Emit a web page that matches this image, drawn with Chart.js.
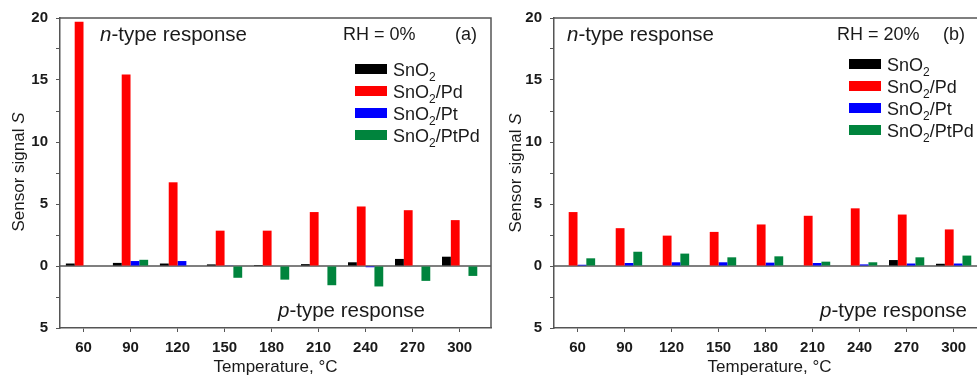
<!DOCTYPE html>
<html>
<head>
<meta charset="utf-8">
<script src="https://cdn.jsdelivr.net/npm/chart.js@4.4.1/dist/chart.umd.min.js"></script>
<style>
  body { margin: 0; background: #fff; overflow: hidden; }
  #wrap { position: relative; width: 977px; height: 376px; overflow: hidden; }
  #c1 { position: absolute; left: 0; top: 0; }
  #c2 { position: absolute; left: 495px; top: 0; }
</style>
</head>
<body>
<div id="wrap">
  <canvas id="c1" width="495" height="376"></canvas>
  <canvas id="c2" width="495" height="376"></canvas>
</div>
<script>
// Temperaturas (eje x)
const temperaturas = [60, 90, 120, 150, 180, 210, 240, 270, 300];

// Panel (a): RH = 0%
const sno2Rh0 = [0.2, 0.25, 0.2, 0.13, 0.08, 0.15, 0.3, 0.57, 0.75];
const pdRh0 = [19.7, 15.45, 6.75, 2.85, 2.85, 4.35, 4.8, 4.5, 3.7];
const ptRh0 = [0, 0.4, 0.4, 0.03, 0, 0, -0.1, 0, 0];
const ptpdRh0 = [0, 0.5, 0, -0.95, -1.1, -1.55, -1.65, -1.2, -0.8];

// Panel (b): RH = 20%
const sno2Rh20 = [0, 0, 0, 0, 0, 0, 0, 0.48, 0.18];
const pdRh20 = [4.35, 3.05, 2.45, 2.75, 3.35, 4.05, 4.65, 4.15, 2.95];
const ptRh20 = [0.1, 0.24, 0.3, 0.3, 0.27, 0.24, 0.13, 0.2, 0.2];
const ptpdRh20 = [0.62, 1.15, 1.0, 0.7, 0.78, 0.35, 0.3, 0.7, 0.84];

const etiquetas = ['SnO2', 'SnO2/Pd', 'SnO2/Pt', 'SnO2/PtPd'];
const colores = ['#000000', '#ff0000', '#0000ff', '#00843d'];

const FUENTE = "'Liberation Sans', Arial, sans-serif";
const TINTA = '#1a1a1a';
const EJE = '#555555';

function fuentePara(estilo, size) {
    if (estilo === 'i') return 'italic ' + size + 'px ' + FUENTE;
    if (estilo === 'sub') return Math.round(size * 0.65) + 'px ' + FUENTE;
    return size + 'px ' + FUENTE;
}

// Dibuja texto con partes en cursiva o subíndice
function pintarPartes(ctx, partes, x, y, size, centrado) {
    let ancho = 0;
    partes.forEach(p => {
        ctx.font = fuentePara(p[1], size);
        ancho += ctx.measureText(p[0]).width;
    });
    let cx = centrado ? x - ancho / 2 : x;
    ctx.textAlign = 'left';
    ctx.textBaseline = 'alphabetic';
    ctx.fillStyle = TINTA;
    partes.forEach(p => {
        ctx.font = fuentePara(p[1], size);
        const dy = p[1] === 'sub' ? size * 0.3 : 0;
        ctx.fillText(p[0], cx, y + dy);
        cx += ctx.measureText(p[0]).width;
    });
}

function partesEtiqueta(lbl) {
    return [['SnO', ''], ['2', 'sub'], [lbl.slice(4), '']];
}

const decoracion = {
    id: 'decoracion',
    beforeDatasetsDraw(chart) {
        const { ctx, chartArea } = chart;
        const y0 = chart.scales.y.getPixelForValue(0);
        ctx.save();
        ctx.strokeStyle = EJE;
        ctx.lineWidth = 1.5;
        ctx.beginPath();
        ctx.moveTo(chartArea.left, y0);
        ctx.lineTo(chartArea.right, y0);
        ctx.stroke();
        ctx.restore();
    },
    afterDraw(chart, args, opts) {
        const { ctx, chartArea } = chart;
        ctx.save();
        // marco superior y derecho
        ctx.strokeStyle = EJE;
        ctx.lineWidth = 1.5;
        ctx.beginPath();
        ctx.moveTo(chartArea.left, chartArea.top);
        ctx.lineTo(chartArea.right, chartArea.top);
        ctx.lineTo(chartArea.right, chartArea.bottom);
        ctx.stroke();

        // textos
        opts.textos.forEach(t => pintarPartes(ctx, t.partes, t.x, t.y, t.size, false));

        // leyenda
        const ley = opts.leyenda;
        chart.data.datasets.forEach((ds, i) => {
            const yc = ley.y + i * ley.paso;
            ctx.fillStyle = ds.backgroundColor;
            ctx.fillRect(ley.x, yc - 5, 32, 10);
            pintarPartes(ctx, partesEtiqueta(ds.label), ley.x + 38, yc + 7, 18, false);
        });

        // título eje y
        ctx.translate(opts.tituloY.x, opts.tituloY.y);
        ctx.rotate(-Math.PI / 2);
        pintarPartes(ctx, [['Sensor signal ', ''], ['S', 'i']], 0, 0, 17, true);
        ctx.restore();
    }
};

function crearGrafico(id, series, padDer, anchoY, extra) {
    const ctx = document.getElementById(id).getContext('2d');
    return new Chart(ctx, {
        type: 'bar',
        data: {
            datasets: series.map((vals, i) => ({
                label: etiquetas[i],
                data: temperaturas.map((t, j) => ({ x: t, y: vals[j] })),
                backgroundColor: colores[i],
                borderWidth: 0
            }))
        },
        options: {
            responsive: false,
            animation: false,
            layout: { padding: { top: 18, right: padDer, left: 0, bottom: 0 } },
            datasets: { bar: { categoryPercentage: 0.75, barPercentage: 1.0 } },
            scales: {
                x: {
                    type: 'linear',
                    min: 45,
                    max: 320,
                    offset: false,
                    afterBuildTicks: s => { s.ticks = temperaturas.map(v => ({ value: v })); },
                    afterFit: s => { s.height = 48; },
                    grid: { drawOnChartArea: false, offset: false, tickLength: 4, tickColor: EJE },
                    border: { color: EJE, width: 1.5 },
                    ticks: {
                        autoSkip: false, maxRotation: 0, padding: 7, color: TINTA,
                        font: { family: FUENTE, size: 15, weight: 'bold' }
                    },
                    title: {
                        display: true, text: 'Temperature, °C', color: TINTA, padding: 0,
                        font: { family: FUENTE, size: 17, lineHeight: 1 }
                    }
                },
                y: {
                    min: -5,
                    max: 20,
                    afterFit: s => { s.width = anchoY; },
                    grid: { drawOnChartArea: false, tickLength: 4, tickColor: EJE },
                    border: { color: EJE, width: 1.5 },
                    ticks: {
                        stepSize: 2.5, padding: 8, color: TINTA,
                        font: { family: FUENTE, size: 15, weight: 'bold' },
                        callback: v => (v % 5 === 0 ? String(Math.abs(v)) : '')
                    }
                }
            },
            plugins: {
                legend: { display: false },
                tooltip: { enabled: false },
                decoracion: extra
            }
        },
        plugins: [decoracion]
    });
}

crearGrafico('c1', [sno2Rh0, pdRh0, ptRh0, ptpdRh0], 4, 60, {
    textos: [
        { partes: [['n', 'i'], ['-type response', '']], x: 100, y: 41, size: 20.5 },
        { partes: [['RH = 0%', '']], x: 343, y: 40, size: 18 },
        { partes: [['(a)', '']], x: 455, y: 40, size: 18 },
        { partes: [['p', 'i'], ['-type response', '']], x: 278, y: 317, size: 20.5 }
    ],
    leyenda: { x: 355, y: 69, paso: 22 },
    tituloY: { x: 24, y: 172 }
});

crearGrafico('c2', [sno2Rh20, pdRh20, ptRh20, ptpdRh20], 5, 59, {
    textos: [
        { partes: [['n', 'i'], ['-type response', '']], x: 72, y: 41, size: 20.5 },
        { partes: [['RH = 20%', '']], x: 342, y: 40, size: 18 },
        { partes: [['(b)', '']], x: 448, y: 40, size: 18 },
        { partes: [['p', 'i'], ['-type response', '']], x: 325, y: 317, size: 20.5 }
    ],
    leyenda: { x: 354, y: 64, paso: 22 },
    tituloY: { x: 26, y: 173 }
});
</script>
</body>
</html>
